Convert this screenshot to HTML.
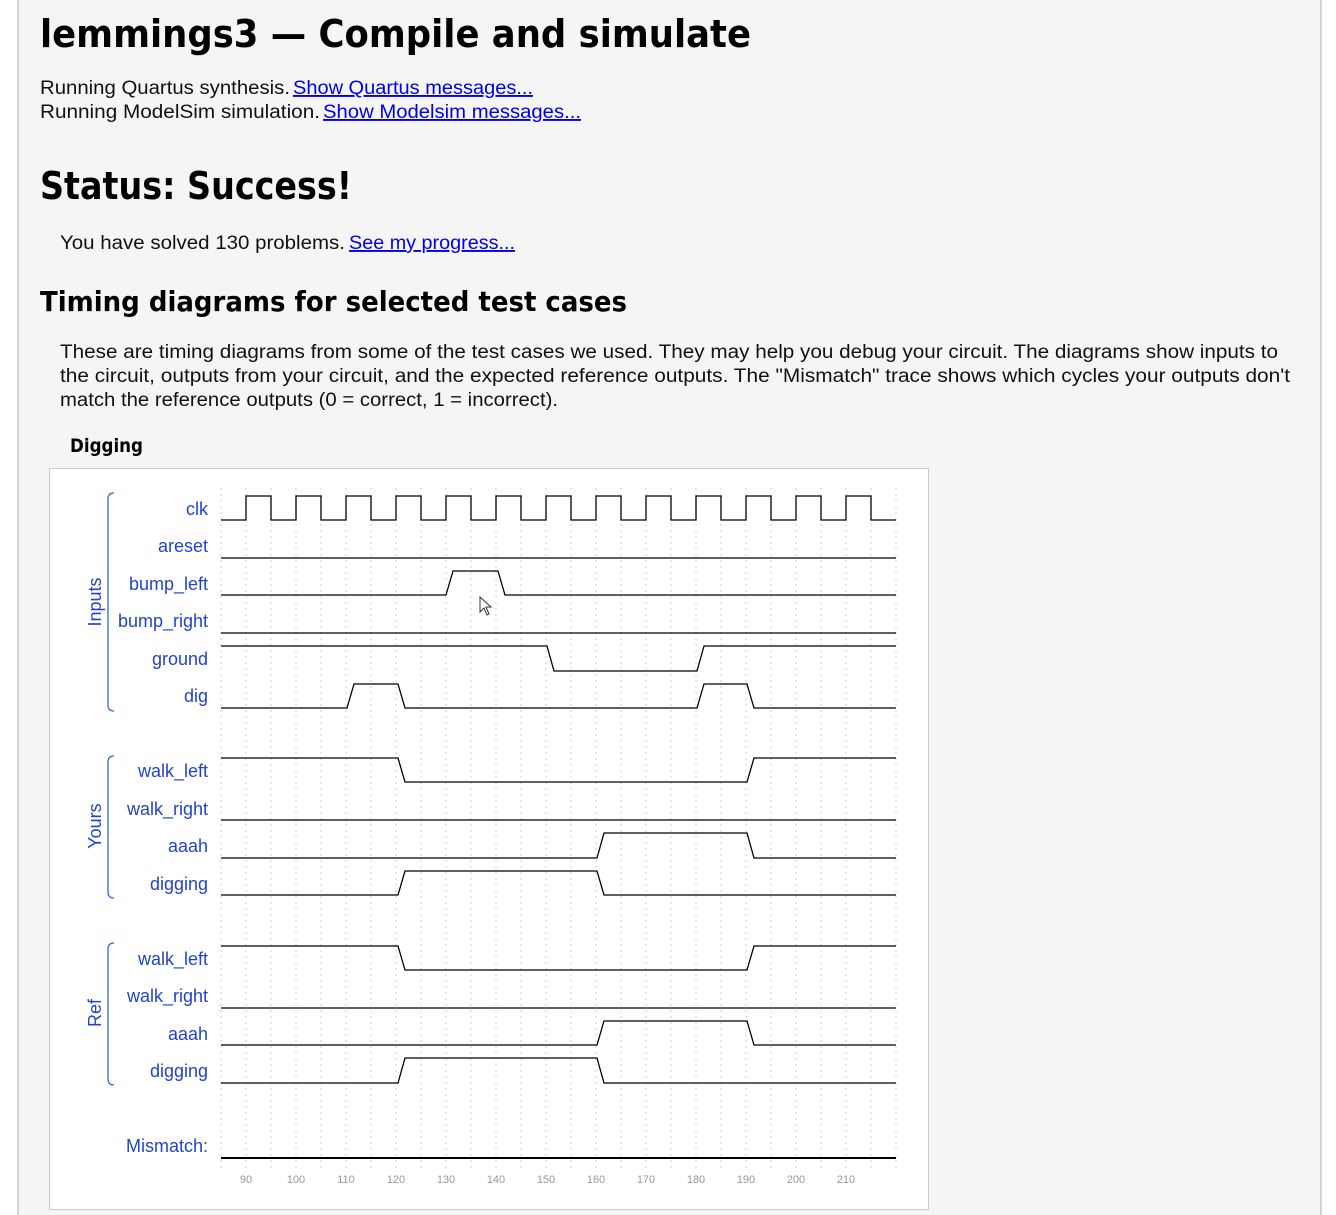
<!DOCTYPE html>
<html><head><meta charset="utf-8"><style>
html,body{margin:0;padding:0;background:#fff;}
svg{display:block}
.b{font-family:"DejaVu Sans","Liberation Sans",sans-serif;font-weight:bold;fill:#000}
.t{font-family:"Liberation Sans",sans-serif;font-size:19px;fill:#111}
.l{font-family:"Liberation Sans",sans-serif;font-size:19px;fill:#0000ee;text-decoration:underline}
.s{font-family:"Liberation Sans",sans-serif;font-size:18px;fill:#2244cc;text-anchor:end}
.g{font-family:"Liberation Sans",sans-serif;font-size:18px;fill:#2244cc;text-anchor:middle}
.w{fill:none;stroke:#000;stroke-width:1.3}
.ax{font-family:"Liberation Sans",sans-serif;font-size:11px;fill:#999;text-anchor:middle}
</style></head><body>
<svg width="1336" height="1215" viewBox="0 0 1336 1215" xmlns="http://www.w3.org/2000/svg">
<rect x="18" y="-1" width="1303" height="1220" fill="#f5f5f5" stroke="#aaa" stroke-width="1"/>
<text class="b" x="40" y="47" font-size="38" textLength="711" lengthAdjust="spacingAndGlyphs">lemmings3 — Compile and simulate</text>
<text class="t" x="40" y="94" textLength="250" lengthAdjust="spacingAndGlyphs">Running Quartus synthesis.</text>
<text class="l" x="293" y="94" textLength="240" lengthAdjust="spacingAndGlyphs">Show Quartus messages...</text>
<text class="t" x="40" y="118" textLength="280" lengthAdjust="spacingAndGlyphs">Running ModelSim simulation.</text>
<text class="l" x="323" y="118" textLength="258" lengthAdjust="spacingAndGlyphs">Show Modelsim messages...</text>
<text class="b" x="40" y="199" font-size="38" textLength="312" lengthAdjust="spacingAndGlyphs">Status: Success!</text>
<text class="t" x="60" y="249" textLength="285" lengthAdjust="spacingAndGlyphs">You have solved 130 problems.</text>
<text class="l" x="349" y="249" textLength="166" lengthAdjust="spacingAndGlyphs">See my progress...</text>
<text class="b" x="40" y="311" font-size="28" textLength="587" lengthAdjust="spacingAndGlyphs">Timing diagrams for selected test cases</text>
<text class="t" x="60" y="358" textLength="1218" lengthAdjust="spacingAndGlyphs">These are timing diagrams from some of the test cases we used. They may help you debug your circuit. The diagrams show inputs to</text>
<text class="t" x="60" y="382" textLength="1230" lengthAdjust="spacingAndGlyphs">the circuit, outputs from your circuit, and the expected reference outputs. The "Mismatch" trace shows which cycles your outputs don't</text>
<text class="t" x="60" y="406" textLength="498" lengthAdjust="spacingAndGlyphs">match the reference outputs (0 = correct, 1 = incorrect).</text>
<text class="b" x="70" y="452" font-size="19" textLength="73" lengthAdjust="spacingAndGlyphs">Digging</text>
<rect x="49.5" y="468.5" width="879" height="741" fill="#fff" stroke="#ccc"/>
<g stroke="#ccc" stroke-width="1" stroke-dasharray="2,4">
<path d="M221,488V1168M246,488V1168M271,488V1168M296,488V1168M321,488V1168M346,488V1168M371,488V1168M396,488V1168M421,488V1168M446,488V1168M471,488V1168M496,488V1168M521,488V1168M546,488V1168M571,488V1168M596,488V1168M621,488V1168M646,488V1168M671,488V1168M696,488V1168M721,488V1168M746,488V1168M771,488V1168M796,488V1168M821,488V1168M846,488V1168M871,488V1168M896,488V1168"/>
</g>
<g fill="none" stroke="#3366dd" stroke-width="1.3">
<path d="M114,493 Q108,493 108,499 V705 Q108,711 114,711"/>
<path d="M114,756 Q108,756 108,762 V892 Q108,898 114,898"/>
<path d="M114,943 Q108,943 108,949 V1079 Q108,1085 114,1085"/>
</g>
<text class="g" transform="translate(101,602) rotate(-90)">Inputs</text>
<text class="g" transform="translate(101,826) rotate(-90)">Yours</text>
<text class="g" transform="translate(101,1013) rotate(-90)">Ref</text>
<text class="s" x="208" y="515">clk</text>
<text class="s" x="208" y="552">areset</text>
<text class="s" x="208" y="590">bump_left</text>
<text class="s" x="208" y="627">bump_right</text>
<text class="s" x="208" y="665">ground</text>
<text class="s" x="208" y="702">dig</text>
<text class="s" x="208" y="777">walk_left</text>
<text class="s" x="208" y="815">walk_right</text>
<text class="s" x="208" y="852">aaah</text>
<text class="s" x="208" y="890">digging</text>
<text class="s" x="208" y="965">walk_left</text>
<text class="s" x="208" y="1002">walk_right</text>
<text class="s" x="208" y="1040">aaah</text>
<text class="s" x="208" y="1077">digging</text>
<text class="s" x="208" y="1152">Mismatch:</text>
<path class="w" d="M221,520 H246 V496 H271 V520 H296 V496 H321 V520 H346 V496 H371 V520 H396 V496 H421 V520 H446 V496 H471 V520 H496 V496 H521 V520 H546 V496 H571 V520 H596 V496 H621 V520 H646 V496 H671 V520 H696 V496 H721 V520 H746 V496 H771 V520 H796 V496 H821 V520 H846 V496 H871 V520 H896"/>
<path class="w" d="M221,558 H896"/>
<path class="w" d="M221,595 H446 L453,571 H498 L505,595 H896"/>
<path class="w" d="M221,633 H896"/>
<path class="w" d="M221,646 H547 L554,671 H697 L704,646 H896"/>
<path class="w" d="M221,708 H347 L354,684 H398 L405,708 H697 L704,684 H747 L754,708 H896"/>
<g>
<path class="w" d="M221,758 H398 L405,782 H747 L754,758 H896"/>
<path class="w" d="M221,820 H896"/>
<path class="w" d="M221,858 H597 L604,833 H747 L754,858 H896"/>
<path class="w" d="M221,895 H398 L405,871 H597 L604,895 H896"/>
</g>
<g transform="translate(0,188)">
<path class="w" d="M221,758 H398 L405,782 H747 L754,758 H896"/>
<path class="w" d="M221,820 H896"/>
<path class="w" d="M221,857 H597 L604,833 H747 L754,857 H896"/>
<path class="w" d="M221,895 H398 L405,870 H597 L604,895 H896"/>
</g>
<path d="M221,1158 H896" stroke="#000" stroke-width="2"/>
<path d="M480,597 V612 L484,608 L487,615 L489,614 L486,607 L491,607 Z" fill="#fff" stroke="#333" stroke-width="1"/>
<text class="ax" x="246" y="1183">90</text>
<text class="ax" x="296" y="1183">100</text>
<text class="ax" x="346" y="1183">110</text>
<text class="ax" x="396" y="1183">120</text>
<text class="ax" x="446" y="1183">130</text>
<text class="ax" x="496" y="1183">140</text>
<text class="ax" x="546" y="1183">150</text>
<text class="ax" x="596" y="1183">160</text>
<text class="ax" x="646" y="1183">170</text>
<text class="ax" x="696" y="1183">180</text>
<text class="ax" x="746" y="1183">190</text>
<text class="ax" x="796" y="1183">200</text>
<text class="ax" x="846" y="1183">210</text>
</svg>
</body></html>
